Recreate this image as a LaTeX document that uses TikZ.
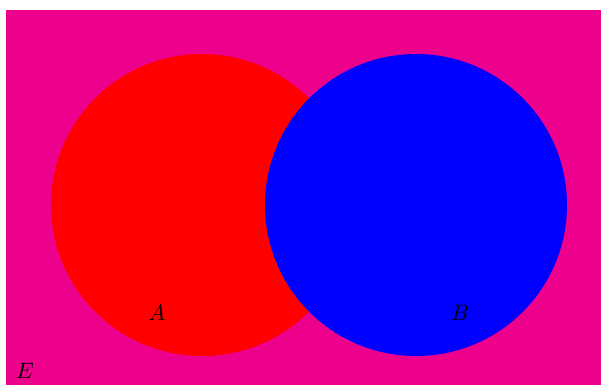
\documentclass[tikz,border=0pt]{standalone}
\usepackage{amsmath,amssymb}

\begin{document}
\begin{tikzpicture}[x=0.45pt,y=-0.45pt]
  \useasboundingbox (0,0) rectangle (601,385);
  \fill[magenta] (6,10) rectangle (601,385);
  \fill[red] (202,205) circle[radius=151];
  \fill[blue] (416,205) circle[radius=151];
  \node (labA) at (157,313) {$A$};
  \node (labB) at (460,313) {$B$};
  \node (labE) at (25,371) {$E$};
\end{tikzpicture}
\end{document}
